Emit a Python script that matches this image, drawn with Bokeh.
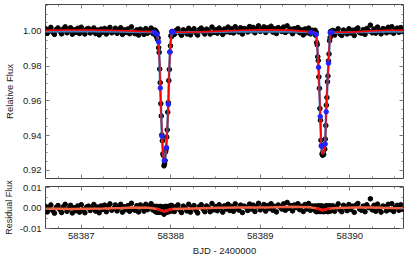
import math
from bokeh.plotting import figure
from bokeh.layouts import column
from bokeh.models import (Range1d, LinearAxis, FixedTicker, PrintfTickFormatter,
                          CustomJSTickFormatter)
from bokeh.embed import file_html
from bokeh.resources import INLINE

# ---------------- data ----------------
t_a = [58386.60, 58386.62, 58386.64, 58386.66, 58386.68, 58386.70, 58386.72, 58386.74, 58386.76, 58386.78,
       58386.80, 58386.82, 58386.84, 58386.86, 58386.88, 58386.90, 58386.92, 58386.94, 58386.96, 58386.98,
       58387.00, 58387.02, 58387.04, 58387.06, 58387.08, 58387.10, 58387.12, 58387.14, 58387.16, 58387.18,
       58387.20, 58387.22, 58387.24, 58387.26, 58387.28, 58387.30, 58387.32, 58387.34, 58387.36, 58387.38,
       58387.40, 58387.42, 58387.44, 58387.46, 58387.48, 58387.50, 58387.52, 58387.54, 58387.56, 58387.58,
       58387.60, 58387.62, 58387.64, 58387.66, 58387.68, 58387.70, 58387.72, 58387.74, 58387.76, 58387.78,
       58387.80]
f_a = [1.0016, 0.9989, 1.0008, 1.0023, 0.9996, 0.9983, 1.0011, 1.0020, 1.0001, 0.9986,
       1.0014, 1.0026, 0.9992, 1.0005, 1.0021, 0.9984, 1.0009, 0.9995, 1.0018, 0.9988,
       1.0024, 1.0000, 0.9985, 1.0013, 1.0017, 0.9991, 1.0004, 1.0020, 0.9988, 1.0008,
       0.9980, 1.0013, 0.9996, 1.0017, 0.9985, 1.0010, 1.0023, 0.9992, 1.0000, 1.0018,
       0.9989, 1.0005, 1.0021, 0.9983, 1.0009, 0.9995, 1.0014, 0.9987, 1.0026, 0.9997,
       0.9987, 1.0009, 0.9979, 1.0013, 0.9999, 0.9983, 1.0016, 0.9990, 1.0004, 1.0019,
       0.9988]
r_a = [0.0008, -0.0019, 0.0000, 0.0015, -0.0012, -0.0025, 0.0003, 0.0012, -0.0007, -0.0022,
       0.0006, 0.0018, -0.0016, -0.0003, 0.0013, -0.0024, 0.0001, -0.0013, 0.0010, -0.0020,
       0.0016, -0.0008, -0.0023, 0.0005, 0.0009, -0.0012, 0.0001, 0.0017, -0.0015, 0.0005,
       -0.0023, 0.0010, -0.0007, 0.0014, -0.0018, 0.0007, 0.0020, -0.0011, -0.0003, 0.0015,
       -0.0014, 0.0002, 0.0018, -0.0020, 0.0006, -0.0008, 0.0011, -0.0016, 0.0023, -0.0006,
       -0.0011, 0.0011, -0.0019, 0.0015, 0.0001, -0.0015, 0.0018, -0.0008, 0.0006, 0.0021,
       -0.0010]

t_e1 = [58387.822, 58387.828, 58387.834, 58387.840, 58387.846, 58387.852, 58387.858, 58387.864, 58387.870, 58387.876,
        58387.882, 58387.888, 58387.894, 58387.900, 58387.906, 58387.912, 58387.918, 58387.924, 58387.930, 58387.936,
        58387.942, 58387.948, 58387.954, 58387.960, 58387.966, 58387.972, 58387.978, 58387.984, 58387.990, 58387.996,
        58388.002, 58388.008, 58388.014, 58388.020]
f_e1 = [1.0008, 0.9981, 1.0002, 0.9970, 0.9992, 0.9954, 0.9963, 0.9906, 0.9879, 0.9783,
        0.9705, 0.9584, 0.9513, 0.9404, 0.9370, 0.9295, 0.9286, 0.9226, 0.9238, 0.9256,
        0.9307, 0.9322, 0.9391, 0.9433, 0.9535, 0.9590, 0.9717, 0.9781, 0.9881, 0.9917,
        0.9975, 0.9970, 1.0000, 0.9980]
r_e1 = [0.0008, -0.0017, 0.0005, -0.0020, 0.0008, -0.0018, 0.0006, -0.0021, 0.0002, -0.0019,
        0.0008, -0.0017, 0.0004, -0.0021, 0.0006, -0.0019, 0.0003, -0.0030, -0.0021, -0.0019,
        0.0008, -0.0017, 0.0003, -0.0021, 0.0007, -0.0015, 0.0008, -0.0017, 0.0008, -0.0015,
        0.0013, -0.0010, 0.0011, -0.0014]

t_b = [58388.04, 58388.06, 58388.08, 58388.10, 58388.12, 58388.14, 58388.16, 58388.18, 58388.20, 58388.22,
       58388.24, 58388.26, 58388.28, 58388.30, 58388.32, 58388.34, 58388.36, 58388.38, 58388.40, 58388.42,
       58388.44, 58388.46, 58388.48, 58388.50, 58388.52, 58388.54, 58388.56, 58388.58, 58388.60, 58388.62,
       58388.64, 58388.66, 58388.68, 58388.70, 58388.72, 58388.74, 58388.76, 58388.78, 58388.80, 58388.82,
       58388.84, 58388.86, 58388.88, 58388.90, 58388.92, 58388.94, 58388.96, 58388.98, 58389.00, 58389.02,
       58389.04, 58389.06, 58389.08, 58389.10, 58389.12, 58389.14, 58389.16, 58389.18, 58389.20, 58389.22,
       58389.24, 58389.26, 58389.28, 58389.30, 58389.32, 58389.34, 58389.36, 58389.38, 58389.40, 58389.42,
       58389.44, 58389.46, 58389.48, 58389.50, 58389.52, 58389.54, 58389.56, 58389.58, 58389.60]
f_b = [0.9983, 1.0006, 1.0015, 0.9991, 0.9978, 1.0009, 1.0000, 0.9986, 1.0018, 0.9980,
       1.0006, 1.0015, 0.9992, 0.9979, 1.0010, 1.0019, 0.9998, 0.9985, 1.0013, 1.0004,
       0.9985, 1.0025, 0.9994, 1.0010, 0.9990, 1.0019, 1.0004, 0.9983, 1.0014, 0.9998,
       1.0025, 0.9995, 1.0015, 0.9991, 1.0027, 1.0004, 0.9997, 1.0021, 0.9985, 1.0016,
       1.0013, 0.9997, 1.0028, 1.0004, 1.0023, 0.9992, 1.0016, 1.0032, 1.0000, 1.0011,
       1.0026, 0.9994, 1.0021, 1.0007, 1.0030, 0.9996, 1.0015, 0.9988, 1.0022, 1.0012,
       1.0000, 1.0025, 0.9994, 1.0032, 1.0003, 1.0013, 0.9987, 1.0016, 1.0003, 1.0022,
       0.9993, 1.0009, 0.9980, 1.0014, 0.9992, 1.0019, 0.9986, 1.0007, 0.9997]
r_b = [-0.0017, 0.0006, 0.0015, -0.0009, -0.0022, 0.0009, 0.0000, -0.0014, 0.0018, -0.0020,
       0.0003, 0.0012, -0.0011, -0.0024, 0.0007, 0.0016, -0.0005, -0.0018, 0.0010, 0.0001,
       -0.0018, 0.0022, -0.0009, 0.0007, -0.0013, 0.0016, 0.0001, -0.0020, 0.0011, -0.0005,
       0.0018, -0.0012, 0.0008, -0.0016, 0.0020, -0.0003, -0.0010, 0.0014, -0.0022, 0.0009,
       0.0004, -0.0012, 0.0019, -0.0005, 0.0014, -0.0017, 0.0007, 0.0023, -0.0009, 0.0002,
       0.0017, -0.0015, 0.0012, -0.0002, 0.0021, -0.0011, 0.0008, -0.0019, 0.0015, 0.0005,
       -0.0005, 0.0020, -0.0011, 0.0027, -0.0002, 0.0012, -0.0014, 0.0015, 0.0002, 0.0021,
       -0.0008, 0.0008, -0.0017, 0.0017, -0.0005, 0.0022, -0.0011, 0.0010, 0.0000]

t_e2 = [58389.612, 58389.618, 58389.624, 58389.630, 58389.636, 58389.642, 58389.648, 58389.654, 58389.660, 58389.666,
        58389.672, 58389.678, 58389.684, 58389.690, 58389.696, 58389.702, 58389.708, 58389.714, 58389.720, 58389.726,
        58389.732, 58389.738, 58389.744, 58389.750, 58389.756, 58389.762, 58389.768, 58389.774, 58389.780, 58389.786,
        58389.792]
f_e2 = [1.0007, 0.9978, 0.9995, 0.9936, 0.9923, 0.9854, 0.9832, 0.9738, 0.9672, 0.9556,
        0.9488, 0.9373, 0.9343, 0.9295, 0.9287, 0.9309, 0.9291, 0.9324, 0.9322, 0.9380,
        0.9458, 0.9575, 0.9619, 0.9710, 0.9743, 0.9830, 0.9870, 0.9946, 0.9964, 1.0000,
        0.9983]
r_e2 = [0.0010, -0.0015, 0.0008, -0.0018, 0.0007, -0.0016, 0.0011, -0.0014, 0.0009, -0.0017,
        0.0005, -0.0017, 0.0011, -0.0014, -0.0016, 0.0007, -0.0018, 0.0004, -0.0016, 0.0009,
        -0.0014, 0.0011, -0.0015, 0.0007, -0.0018, 0.0010, -0.0012, 0.0010, -0.0016, 0.0009,
        -0.0011]

t_c = [58389.81, 58389.83, 58389.85, 58389.87, 58389.89, 58389.91, 58389.93, 58389.95, 58389.97, 58389.99,
       58390.01, 58390.03, 58390.05, 58390.07, 58390.09, 58390.11, 58390.13, 58390.15, 58390.17, 58390.19,
       58390.21, 58390.23, 58390.25, 58390.27, 58390.29, 58390.31, 58390.33, 58390.35, 58390.37, 58390.39,
       58390.41, 58390.43, 58390.45, 58390.47, 58390.49, 58390.51, 58390.53, 58390.55, 58390.57, 58390.59]
f_c = [1.0006, 0.9979, 1.0000, 1.0015, 0.9986, 0.9977, 1.0008, 0.9997, 0.9985, 1.0015,
       0.9991, 1.0007, 0.9977, 1.0012, 1.0020, 0.9993, 0.9990, 1.0010, 0.9983, 1.0017,
       1.0003, 1.0036, 0.9992, 1.0014, 0.9990, 1.0025, 1.0002, 0.9986, 1.0016, 1.0012,
       0.9992, 1.0024, 0.9998, 1.0027, 0.9989, 1.0009, 1.0019, 0.9995, 1.0022, 1.0000]
r_c = [0.0011, -0.0016, 0.0005, 0.0020, -0.0009, -0.0018, 0.0013, 0.0002, -0.0013, 0.0017,
       -0.0007, 0.0009, -0.0021, 0.0014, 0.0022, -0.0005, -0.0011, 0.0009, -0.0018, 0.0016,
       0.0002, 0.0045, -0.0009, 0.0013, -0.0016, 0.0019, -0.0004, -0.0020, 0.0010, 0.0006,
       -0.0014, 0.0018, -0.0008, 0.0021, -0.0017, 0.0003, 0.0013, -0.0011, 0.0016, -0.0006]

model_t = [58386.60, 58386.82, 58387.12, 58387.42, 58387.67,
           58387.815, 58387.835, 58387.848, 58387.858, 58387.866, 58387.874, 58387.882, 58387.892, 58387.902, 58387.914,
           58387.927, 58387.940, 58387.952, 58387.962, 58387.972, 58387.980, 58387.988, 58387.996, 58388.005, 58388.018,
           58388.035,
           58388.22, 58388.42, 58388.72, 58388.97, 58389.17, 58389.37, 58389.52,
           58389.600, 58389.615, 58389.625, 58389.638, 58389.651, 58389.660, 58389.670, 58389.681, 58389.690, 58389.700,
           58389.712, 58389.725, 58389.736, 58389.749, 58389.762, 58389.772, 58389.781, 58389.795,
           58389.97, 58390.12, 58390.27, 58390.42, 58390.60]
model_red = [1.0006, 1.0008, 1.0008, 1.0005, 1.0000,
             0.9998, 0.9992, 0.9975, 0.9950, 0.9910, 0.9830, 0.9690, 0.9530, 0.9390, 0.9290,
             0.9245, 0.9280, 0.9360, 0.9450, 0.9575, 0.9740, 0.9850, 0.9930, 0.9975, 0.9994,
             0.9995,
             0.9995, 0.9999, 1.0005, 1.0010, 1.0009, 1.0006, 0.9999,
             0.9997, 0.9993, 0.9983, 0.9900, 0.9793, 0.9660, 0.9510, 0.9340, 0.9305, 0.9295,
             0.9310, 0.9351, 0.9537, 0.9690, 0.9817, 0.9920, 0.9985, 0.9995,
             0.9995, 0.9999, 1.0004, 1.0007, 1.0007]
model_blue = [1.0000, 1.0001, 1.0001, 1.0000, 0.9997,
              0.9996, 0.9990, 0.9973, 0.9948, 0.9908, 0.9828, 0.9690, 0.9530, 0.9390, 0.9290,
              0.9245, 0.9280, 0.9360, 0.9450, 0.9575, 0.9740, 0.9848, 0.9928, 0.9972, 0.9991,
              0.9993,
              0.9995, 0.9997, 0.9999, 1.0000, 1.0000, 0.9999, 0.9996,
              0.9994, 0.9990, 0.9980, 0.9897, 0.9791, 0.9660, 0.9510, 0.9340, 0.9305, 0.9295,
              0.9310, 0.9351, 0.9537, 0.9690, 0.9815, 0.9917, 0.9982, 0.9992,
              0.9994, 0.9996, 0.9998, 1.0000, 1.0000]

bpt_t = [58387.818, 58387.845, 58387.864, 58387.882, 58387.901, 58387.927, 58387.953, 58387.973, 58387.990, 58388.009, 58388.029,
         58389.566, 58389.625, 58389.651, 58389.670, 58389.681, 58389.725, 58389.736, 58389.762, 58389.781, 58389.800]
bpt_f = [0.9994, 0.9983, 0.9939, 0.9674, 0.9396, 0.9256, 0.9331, 0.9580, 0.9882, 0.9998, 0.9997,
         0.9994, 0.9983, 0.9793, 0.9510, 0.9340, 0.9351, 0.9537, 0.9817, 0.9993, 0.9996]

res_t = [58386.60, 58386.75, 58386.90, 58387.05, 58387.25, 58387.45, 58387.60, 58387.75, 58387.85, 58387.90,
         58387.93, 58387.97, 58388.02, 58388.15, 58388.35, 58388.55, 58388.75, 58388.95, 58389.15, 58389.35,
         58389.55, 58389.65, 58389.70, 58389.75, 58389.85, 58390.05, 58390.25, 58390.45, 58390.60]
res_f = [-0.0003, -0.0004, -0.0005, -0.0003, -0.0002, 0.0000, 0.0002, 0.0001, -0.0005, -0.0012,
         -0.0016, -0.0010, -0.0005, -0.0003, -0.0001, 0.0001, 0.0002, 0.0003, 0.0004, 0.0006,
         0.0004, -0.0003, -0.0011, -0.0004, 0.0000, 0.0002, 0.0003, 0.0000, -0.0001]
res_e1_t = [58387.84, 58387.87, 58387.90, 58387.93, 58387.96, 58387.99, 58388.02]
res_e1_f = [-0.0003, -0.0008, -0.0013, -0.0017, -0.0012, -0.0007, -0.0005]
res_e2_t = [58389.62, 58389.66, 58389.70, 58389.74, 58389.78]
res_e2_f = [-0.0001, -0.0006, -0.0011, -0.0006, -0.0001]

x_ticks = [58387, 58388, 58389, 58390]
x_minor = [58386.75, 58387.25, 58387.5, 58387.75, 58388.25, 58388.5, 58388.75,
           58389.25, 58389.5, 58389.75, 58390.25, 58390.5]
y1_ticks = [0.92, 0.94, 0.96, 0.98, 1.00]
y1_minor = [0.925, 0.93, 0.935, 0.945, 0.95, 0.955, 0.965, 0.97, 0.975,
            0.985, 0.99, 0.995, 1.005, 1.01, 1.015]
y2_ticks = [-0.01, 0.00, 0.01]
y2_minor = [-0.005, 0.005]

# ---------------- styling ----------------
FONT = "Liberation Sans"
TXT = "#222222"
TICK = "#7a7a7a"
EDGE = "#444444"
FS = "9.5px"

obs_t = t_a + t_e1 + t_b + t_e2 + t_c
obs_f = f_a + f_e1 + f_b + f_e2 + f_c
obs_r = r_a + r_e1 + r_b + r_e2 + r_c


def style_axis(ax, labels=True):
    ax.major_tick_in = 4
    ax.major_tick_out = 0
    ax.minor_tick_in = 2
    ax.minor_tick_out = 0
    ax.major_tick_line_color = TICK
    ax.minor_tick_line_color = TICK
    ax.axis_line_color = None
    if labels:
        ax.major_label_text_font = FONT
        ax.major_label_text_font_size = FS
        ax.major_label_text_color = TXT
        ax.major_label_standoff = 4
    else:
        ax.formatter = CustomJSTickFormatter(code="return ''")
        ax.major_label_text_font_size = "0px"
        ax.major_label_standoff = 0


def tick_axis(ticks, minor):
    ax = LinearAxis(ticker=FixedTicker(ticks=ticks, minor_ticks=minor))
    style_axis(ax, labels=False)
    return ax


def style_title(ax, text, size, standoff):
    ax.axis_label = text
    ax.axis_label_text_font = FONT
    ax.axis_label_text_font_size = size
    ax.axis_label_text_font_style = "normal"
    ax.axis_label_text_color = TXT
    ax.axis_label_standoff = standoff


W = 405
xr = Range1d(58386.6, 58390.6)

p1 = figure(width=W, height=179, x_range=xr, y_range=Range1d(0.9153, 1.0155),
            x_axis_location=None, output_backend="svg", toolbar_location=None,
            min_border_left=44, min_border_right=2, min_border_top=4, min_border_bottom=1)
p1.grid.visible = False
p1.outline_line_color = EDGE
ya = p1.yaxis[0]
ya.ticker = FixedTicker(ticks=y1_ticks, minor_ticks=y1_minor)
ya.formatter = PrintfTickFormatter(format="%.2f")
style_axis(ya)
style_title(ya, "Relative Flux", FS, 5)
p1.add_layout(tick_axis(x_ticks, x_minor), "above")
p1.add_layout(tick_axis(x_ticks, x_minor), "below")
p1.add_layout(tick_axis(y1_ticks, y1_minor), "right")

p1.scatter(obs_t, obs_f, size=4.6, color="black", marker="circle")
p1.line(model_t, model_blue, line_color="#3f7cc0", line_width=2.5)
p1.line(model_t, model_red, line_color="#ff0000", line_width=1.6)
p1.scatter(bpt_t, bpt_f, size=4.5, color="#2222ff", marker="circle")

p2 = figure(width=W, height=79, x_range=xr, y_range=Range1d(-0.0100, 0.0105),
            output_backend="svg", toolbar_location=None,
            min_border_left=44, min_border_right=2, min_border_top=7, min_border_bottom=0)
p2.grid.visible = False
p2.outline_line_color = EDGE
xa = p2.xaxis[0]
xa.ticker = FixedTicker(ticks=x_ticks, minor_ticks=x_minor)
xa.formatter = PrintfTickFormatter(format="%d")
style_axis(xa)
style_title(xa, "BJD - 2400000", FS, 3)
ya2 = p2.yaxis[0]
ya2.ticker = FixedTicker(ticks=y2_ticks, minor_ticks=y2_minor)
ya2.formatter = PrintfTickFormatter(format="%.2f")
style_axis(ya2)
style_title(ya2, "Residual Flux", "9px", 3)
p2.add_layout(tick_axis(x_ticks, x_minor), "above")
p2.add_layout(tick_axis(y2_ticks, y2_minor), "right")

p2.scatter(obs_t, obs_r, size=4.6, color="black", marker="circle")
p2.line(res_t, res_f, line_color="#f5603f", line_width=2.5)
p2.line(res_e1_t, res_e1_f, line_color="#ee1111", line_width=2.5)
p2.line(res_e2_t, res_e2_f, line_color="#ee1111", line_width=2.5)

layout = column(p1, p2)
open("out.html", "w").write(file_html(layout, INLINE))
